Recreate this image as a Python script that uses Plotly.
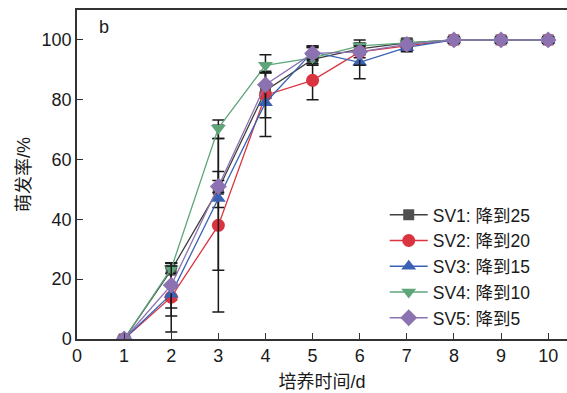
import plotly.graph_objects as go

days = [1, 2, 3, 4, 5, 6, 7, 8, 9, 10]
names = ["SV1: 降到25", "SV2: 降到20", "SV3: 降到15", "SV4: 降到10", "SV5: 降到5"]

sv1 = [0, 23, 50, 83, 93.5, 97, 99, 100, 100, 100]
sv2 = [0, 14, 38, 81.5, 86.5, 96, 98, 100, 100, 100]
sv3 = [0, 15, 47, 79, 96, 92.5, 97.5, 100, 100, 100]
sv4 = [0, 23.5, 70.5, 91.5, 94, 98, 99, 100, 100, 100]
sv5 = [0, 18, 51, 85, 95.5, 96, 98.5, 100, 100, 100]

sv1_plus = [1, 2.4, 6, 6, 4, 2, 1.5, 1, 1, 1]
sv1_minus = [0, 10, 6, 2, 2, 2, 1.5, 1, 1, 1]
sv2_plus = [0, 11.4, 29, 1, 6.5, 2, 1.5, 1, 1, 1]
sv2_minus = [0, 11.7, 29, 1, 6.5, 2, 1.5, 1, 1, 1]
sv3_plus = [0, 8.7, 24.5, 10.5, 2, 6, 1.5, 1, 1, 1]
sv3_minus = [0, 7.3, 24, 11.3, 2, 5.5, 1.5, 1, 1, 1]
sv4_plus = [0, 1.9, 2.7, 3.5, 4, 2, 1, 1, 1, 1]
sv4_minus = [0, 1.5, 3.5, 2.5, 2, 2, 1, 1, 1, 1]
sv5_plus = [0, 6.4, 2, 4, 2, 2, 1, 1, 1, 1]
sv5_minus = [0, 7.6, 2, 11, 2, 4.5, 1, 1, 1, 1]

x_ticks = [0, 1, 2, 3, 4, 5, 6, 7, 8, 9, 10]
y_ticks = [0, 20, 40, 60, 80, 100]

series = [sv1, sv2, sv3, sv4, sv5]
plus = [sv1_plus, sv2_plus, sv3_plus, sv4_plus, sv5_plus]
minus = [sv1_minus, sv2_minus, sv3_minus, sv4_minus, sv5_minus]
line_colors = ["#3f3f3f", "#d9343f", "#3a62b4", "#5ea67a", "#8c72b0"]
marker_colors = ["#505050", "#d9343f", "#3a62b4", "#5ea67a", "#8c72b0"]
symbols = ["square", "circle", "triangle-up", "triangle-down", "diamond"]
sizes = [11, 13, 13, 13, 13]

FONT = "Liberation Sans, Arial, Noto Sans CJK SC"

fig = go.Figure()
for ys, p, m, n, lc, mc, s, sz in zip(series, plus, minus, names, line_colors, marker_colors, symbols, sizes):
    fig.add_trace(go.Scatter(
        x=days, y=ys, name=n, mode="lines+markers",
        line=dict(color=lc, width=1.3),
        marker=dict(symbol=s, size=sz, color=mc, line=dict(width=0)),
        error_y=dict(type="data", symmetric=False, array=p, arrayminus=m,
                     color="#1a1a1a", thickness=1.5, width=6),
    ))

fig.update_layout(
    width=567, height=393,
    margin=dict(l=77, r=0, t=10, b=54, autoexpand=False),
    plot_bgcolor="white", paper_bgcolor="white",
    font=dict(family=FONT, size=18, color="#1a1a1a"),
    showlegend=True,
    legend=dict(x=0.628, y=0.432, xanchor="left", yanchor="top",
                bgcolor="rgba(0,0,0,0)", borderwidth=0,
                font=dict(family=FONT, size=17.5), itemwidth=38,
                tracegroupgap=0),
    annotations=[dict(text="b", x=0.04, y=0.985, xref="paper", yref="paper",
                      xanchor="left", yanchor="top", showarrow=False,
                      font=dict(family=FONT, size=18))],
)
fig.update_xaxes(
    range=[0, 10.4], tickmode="array", tickvals=x_ticks, automargin=False,
    ticks="inside", ticklen=6, tickwidth=1.2, tickcolor="#333",
    showline=True, linecolor="#333", linewidth=1.5, mirror=True,
    showgrid=False, zeroline=False,
    title=dict(text="培养时间/d", font=dict(family=FONT, size=18), standoff=10),
)
fig.update_yaxes(
    range=[0, 110], tickmode="array", tickvals=y_ticks, automargin=False,
    ticks="inside", ticklen=6, tickwidth=1.2, tickcolor="#333",
    showline=True, linecolor="#333", linewidth=1.5, mirror=False,
    showgrid=False, zeroline=False,
    title=dict(text="萌发率/%", font=dict(family=FONT, size=18), standoff=6),
)

fig.write_html(
    "out.html",
    config={"displayModeBar": False},
    post_script="document.body.style.margin='0';document.body.style.overflow='hidden';",
)
